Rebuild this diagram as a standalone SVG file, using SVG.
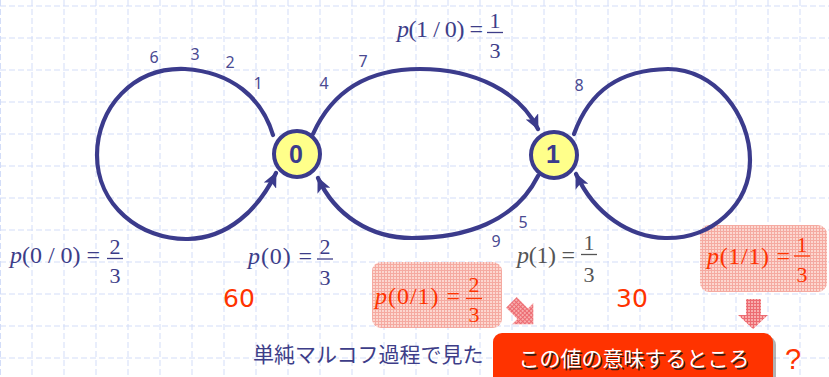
<svg xmlns="http://www.w3.org/2000/svg" width="829" height="377" viewBox="0 0 829 377">
<style>
.grid{stroke:#d3ddf8;stroke-width:1;stroke-dasharray:6 3;fill:none}
.edge{fill:none;stroke:#3b3b8c;stroke-width:4.2;stroke-linecap:round}
.node circle{fill:#ffff8a;stroke:#3b3b8c;stroke-width:4}
.node text{font-family:"Liberation Sans",Arial,sans-serif;font-weight:bold;font-size:25px;fill:#3b3b8c;text-anchor:middle}
.num{font-family:"Noto Sans","DejaVu Sans",sans-serif;font-size:16px;fill:#4a4a92;text-anchor:middle}
.m{font-family:"Liberation Serif","Times New Roman",serif;font-size:24px}
.f{font-family:"Liberation Serif","Times New Roman",serif;font-size:22px;text-anchor:middle}
.it{font-style:italic}
.navy{fill:#3d3d88}
.gray{fill:#555555}
.red{fill:#ff3300}
.barn{stroke:#3d3d88;stroke-width:1.3}
.barg{stroke:#555555;stroke-width:1.3}
.barr{stroke:#ff3300;stroke-width:1.3}
.big{font-family:"DejaVu Sans",Verdana,sans-serif;font-size:25px;fill:#ff3300}
.jp{font-family:"Noto Sans CJK JP","Noto Sans",sans-serif}
</style>
<defs>
<marker id="ah" markerUnits="userSpaceOnUse" markerWidth="16" markerHeight="14" viewBox="0 0 16 14" refX="14" refY="7" orient="auto">
<path d="M0,0 L15,7 L0,14 L3.5,7 z" fill="#3b3b8c"/>
</marker>
<pattern id="pink" width="3" height="3" patternUnits="userSpaceOnUse">
<rect width="3" height="3" fill="#fcd2cb"/>
<rect width="3" height="1" fill="#f4a097"/>
<rect width="1" height="3" fill="#f4a097"/>
</pattern>
<pattern id="pinkarrow" width="3" height="3" patternUnits="userSpaceOnUse">
<rect width="3" height="3" fill="#f7a4a4"/>
<rect width="3" height="1" fill="#ea5a62"/>
<rect width="1" height="3" fill="#ea5a62"/>
</pattern>
</defs>
<rect width="829" height="377" fill="#ffffff"/>
<g id="grid">
<path class="grid" d="M0.5 0V377M32 0V377M64 0V377M96 0V377M128 0V377M160 0V377M192 0V377M224 0V377M256 0V377M288 0V377M320 0V377M352 0V377M384 0V377M416 0V377M448 0V377M480 0V377M512 0V377M544 0V377M576 0V377M608 0V377M640 0V377M672 0V377M704 0V377M736 0V377M768 0V377M800 0V377"/>
<path class="grid" d="M0 6H829M0 38H829M0 70H829M0 102H829M0 134H829M0 166H829M0 198H829M0 230H829M0 262H829M0 294H829M0 326H829M0 358H829"/>
</g>
<g id="highlight-boxes">
<rect x="372" y="262" width="130" height="66" rx="9" fill="url(#pink)" opacity="0.9"/>
<rect x="700" y="225" width="127" height="67" rx="9" fill="url(#pink)" opacity="0.9"/>
</g>
<g id="connectors">
<path class="edge" marker-end="url(#ah)" d="M273 135 C262 98 232 72 185 69 C133 67 97 108 97 155 C97 205 140 240 188 239 C228 238 258 210 276 173"/>
<path class="edge" marker-end="url(#ah)" d="M313 134 C335 85 375 69 420 69 C475 69 520 92 538 129"/>
<path class="edge" marker-end="url(#ah)" d="M538 176 C515 222 465 238 412 238 C370 238 335 215 318 178"/>
<path class="edge" marker-end="url(#ah)" d="M574 134 C590 90 620 70 668 69 C715 69 750 115 750 160 C750 205 712 239 665 238 C630 237 595 215 576 174"/>
</g>
<g id="node0" class="node">
<circle cx="297" cy="154" r="23"/>
<text x="296" y="163">0</text>
</g>
<g id="node1" class="node">
<circle cx="554" cy="155" r="23"/>
<text x="553" y="163">1</text>
</g>
<g id="edge-numbers">
<text class="num" x="154" y="63">6</text>
<text class="num" x="195" y="60">3</text>
<text class="num" x="230" y="68">2</text>
<text class="num" x="258" y="89">1</text>
<text class="num" x="324" y="89">4</text>
<text class="num" x="363" y="67">7</text>
<text class="num" x="579" y="91">8</text>
<text class="num" x="523" y="228">5</text>
<text class="num" x="496" y="247">9</text>
</g>
<g id="label-p10">
<text class="m navy" x="397" y="37" textLength="86" lengthAdjust="spacing"><tspan class="it">p</tspan>(1 / 0) =</text>
<text class="f navy" x="495" y="28">1</text>
<line class="barn" x1="487" y1="32.5" x2="503" y2="32.5"/>
<text class="f navy" x="495" y="58">3</text>
</g>
<g id="label-p00">
<text class="m navy" x="10" y="263" textLength="90" lengthAdjust="spacing"><tspan class="it">p</tspan>(0 / 0) =</text>
<text class="f navy" x="115" y="254">2</text>
<line class="barn" x1="107" y1="258.5" x2="123" y2="258.5"/>
<text class="f navy" x="115" y="283">3</text>
</g>
<g id="label-p0">
<text class="m navy" x="248" y="264" textLength="64" lengthAdjust="spacing"><tspan class="it">p</tspan>(0) =</text>
<text class="f navy" x="325" y="254">2</text>
<line class="barn" x1="317" y1="259" x2="333" y2="259"/>
<text class="f navy" x="325" y="285">3</text>
</g>
<g id="label-p1">
<text class="m gray" x="517" y="263" textLength="58" lengthAdjust="spacing"><tspan class="it">p</tspan>(1) =</text>
<text class="f gray" x="589" y="250">1</text>
<line class="barg" x1="581" y1="254.5" x2="597" y2="254.5"/>
<text class="f gray" x="589" y="282">3</text>
</g>
<g id="label-p01">
<text class="m red" x="375" y="304" textLength="85" lengthAdjust="spacing"><tspan class="it">p</tspan>(0/1) =</text>
<text class="f red" x="474" y="292">2</text>
<line class="barr" x1="466" y1="298.5" x2="482" y2="298.5"/>
<text class="f red" x="474" y="322">3</text>
</g>
<g id="label-p11">
<text class="m red" x="707" y="264" textLength="83" lengthAdjust="spacing"><tspan class="it">p</tspan>(1/1) =</text>
<text class="f red" x="802" y="252">1</text>
<line class="barr" x1="794" y1="256" x2="810" y2="256"/>
<text class="f red" x="802" y="282">3</text>
</g>
<g id="counts">
<text class="big" x="239" y="307" text-anchor="middle">60</text>
<text class="big" x="632" y="307" text-anchor="middle">30</text>
</g>
<g id="pointer-arrows">
<polygon fill="url(#pinkarrow)" opacity="0.9" points="746,299 761,299 761,315 768,315 753,329 738,315 746,315"/>
<polygon fill="url(#pinkarrow)" opacity="0.9" transform="translate(522,313) rotate(-45)" points="-7.5,-15 7.5,-15 7.5,1 15,1 0,16 -15,1 -7.5,1"/>
</g>
<g id="caption">
<text class="jp navy" x="253" y="362" font-size="21">単純マルコフ過程で見た</text>
</g>
<g id="callout">
<rect x="496" y="336" width="280" height="60" rx="9" fill="#000000" opacity="0.3"/>
<rect x="493" y="333" width="280" height="60" rx="9" fill="#ff3300"/>
<text class="jp" x="635.5" y="367.5" font-size="21" fill="#3a1a10" text-anchor="middle">この値の意味するところ</text>
<text class="jp" x="634" y="366" font-size="21" fill="#ffffff" text-anchor="middle">この値の意味するところ</text>
</g>
<g id="question">
<text x="785" y="369" font-family="Liberation Sans,Arial,sans-serif" font-size="29" fill="#ff3300">?</text>
</g>
</svg>
